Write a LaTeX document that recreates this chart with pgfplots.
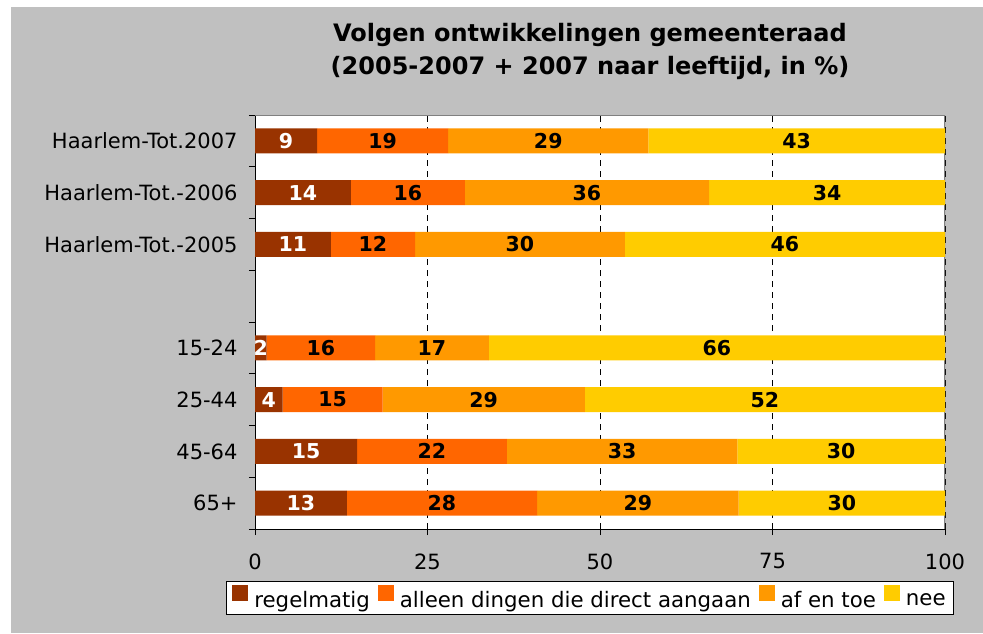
\documentclass[border=0pt]{standalone}
\usepackage{pgfplots}
\pgfplotsset{compat=1.18}
\usepackage{fontspec}
\setmainfont{DejaVu Sans}
\definecolor{bg}{HTML}{C0C0C0}
\definecolor{cA}{HTML}{993300}
\definecolor{cB}{HTML}{FF6600}
\definecolor{cC}{HTML}{FF9900}
\definecolor{cD}{HTML}{FFCC00}
\definecolor{frame}{HTML}{808080}
\begin{document}
\begin{tikzpicture}[x=1pt,y=1pt]
\fill[white] (0,0) rectangle (983,633);
\fill[bg] (11,0) rectangle (983,626);
\fill[white] (255,104) rectangle (945,518);
\node[font=\fontsize{24}{33}\selectfont\bfseries, align=center] at (590,582)
  {Volgen ontwikkelingen gemeenteraad\\(2005-2007 + 2007 naar leeftijd, in \%)};
\begin{axis}[
  at={(255pt,104pt)}, anchor=south west,
  scale only axis, width=690pt, height=414pt,
  xbar stacked, bar width=25pt,
  xmin=0, xmax=100, ymin=0.5, ymax=8.5,
  axis x line*=bottom, axis y line*=left,
  axis line style={-, black, line width=1pt},
  xtick={0,25,50,75,100},
  ytick={1,2,3,4,5,6,7,8},
  yticklabels={65+,45-64,25-44,15-24,,Haarlem-Tot.-2005,Haarlem-Tot.-2006,Haarlem-Tot.2007},
  minor ytick={0.5,1.5,...,8.5},
  major tick length=6pt, minor tick length=6pt,
  tick align=outside,
  y tick style={draw=none},
  minor y tick style={draw=black, line width=1pt},
  x tick style={black, line width=1pt},
  xmajorgrids, grid style={black, dashed, line width=0.8pt, dash pattern=on 6pt off 5pt},
  ticklabel style={font=\fontsize{21}{25}\selectfont},
  /pgf/number format/assume math mode=true,
  xticklabel style={yshift=-15pt},
  yticklabel style={xshift=-8pt},
  point meta=explicit symbolic,
  every node near coord/.append style={anchor=center,
     font=\fontsize{20.5}{24}\selectfont\bfseries},
  legend style={at={(0.4855,-0.1667)}, anchor=center, legend columns=4,
     draw=black, fill=white, line width=0.8pt, font=\fontsize{21.3}{25}\selectfont,
     inner xsep=6pt, inner ysep=3pt,
     /tikz/every odd column/.append style={column sep=4pt},
     /tikz/every even column/.append style={column sep=6pt}},
  legend image code/.code={\fill[#1] (0pt,0pt) rectangle (16pt,16pt);},
]
\addplot[fill=cA, draw=none, nodes near coords={\textcolor{white}{\pgfplotspointmeta}}] coordinates {
 (13.3,1) [13] (14.8,2) [15] (4.0,3) [4] (1.7,4) [2] (11.0,6) [11] (13.9,7) [14] (9,8) [9]};
\addplot[fill=cB, draw=none, nodes near coords={\pgfplotspointmeta}] coordinates {
 (27.6,1) [28] (21.7,2) [22] (14.5,3) [15] (15.7,4) [16] (12.2,6) [12] (16.5,7) [16] (19,8) [19]};
\addplot[fill=cC, draw=none, nodes near coords={\pgfplotspointmeta}] coordinates {
 (29.2,1) [29] (33.4,2) [33] (29.3,3) [29] (16.5,4) [17] (30.4,6) [30] (35.4,7) [36] (29,8) [29]};
\addplot[fill=cD, draw=none, nodes near coords={\pgfplotspointmeta}] coordinates {
 (29.9,1) [30] (30.1,2) [30] (52.2,3) [52] (66.1,4) [66] (46.4,6) [46] (34.2,7) [34] (43,8) [43]};
\legend{regelmatig, alleen dingen die direct aangaan, af en toe, nee}
\draw[frame, line width=2pt] (rel axis cs:0,1) -- (rel axis cs:1,1) -- (rel axis cs:1,0);
\end{axis}
\end{tikzpicture}
\end{document}
